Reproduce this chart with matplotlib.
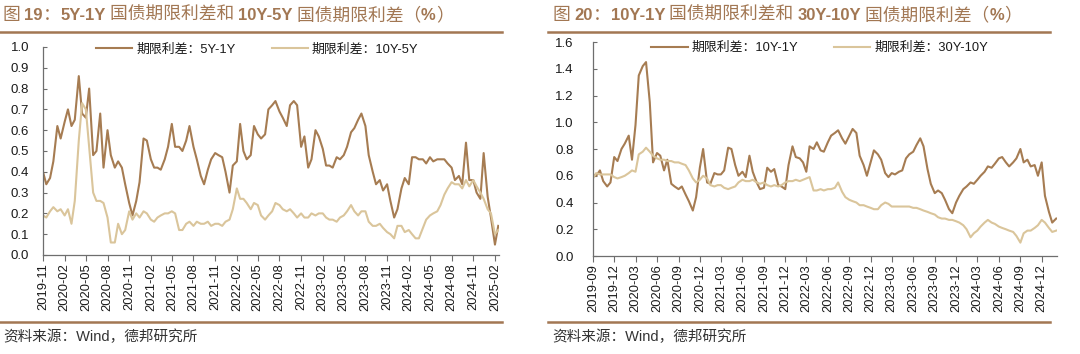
import pandas as pd
import matplotlib
matplotlib.use('Agg')
import matplotlib.pyplot as plt
from matplotlib.lines import Line2D

plt.rcParams['font.family'] = ['Liberation Sans', 'Noto Sans CJK SC']

# 图19：半月取值，起点 2019-11-01
spread_5y1y = [
    0.40, 0.34, 0.37, 0.45, 0.62, 0.56, 0.64, 0.70, 0.62, 0.65, 0.86, 0.68,
    0.66, 0.80, 0.48, 0.50, 0.68, 0.42, 0.60, 0.48, 0.42, 0.45, 0.42, 0.34,
    0.25, 0.19, 0.26, 0.35, 0.56, 0.55, 0.46, 0.42, 0.42, 0.41, 0.46, 0.52,
    0.63, 0.52, 0.52, 0.50, 0.55, 0.62, 0.52, 0.46, 0.38, 0.34, 0.41, 0.46,
    0.49, 0.48, 0.47, 0.40, 0.30, 0.43, 0.45, 0.63, 0.50, 0.46, 0.48, 0.62,
    0.58, 0.56, 0.58, 0.70, 0.72, 0.74, 0.69, 0.66, 0.62, 0.72, 0.74, 0.72,
    0.52, 0.57, 0.42, 0.46, 0.60, 0.57, 0.51, 0.43, 0.43, 0.42, 0.47, 0.46,
    0.48, 0.52, 0.59, 0.61, 0.65, 0.68, 0.62, 0.48, 0.40, 0.34, 0.36, 0.31,
    0.34, 0.26, 0.18, 0.22, 0.32, 0.37, 0.34, 0.47, 0.47, 0.46, 0.46, 0.44,
    0.47, 0.45, 0.46, 0.46, 0.46, 0.44, 0.42, 0.36, 0.38, 0.34, 0.54, 0.36,
    0.36, 0.30, 0.27, 0.49, 0.28, 0.18, 0.05, 0.14,
]
spread_10y5y = [
    0.19, 0.18, 0.21, 0.23, 0.21, 0.22, 0.19, 0.22, 0.15, 0.26, 0.55, 0.73,
    0.70, 0.52, 0.30, 0.26, 0.26, 0.25, 0.18, 0.06, 0.06, 0.15, 0.10, 0.12,
    0.21, 0.17, 0.20, 0.18, 0.21, 0.20, 0.17, 0.16, 0.18, 0.19, 0.20, 0.20,
    0.21, 0.20, 0.12, 0.12, 0.15, 0.16, 0.14, 0.16, 0.15, 0.15, 0.16, 0.14,
    0.15, 0.15, 0.14, 0.16, 0.17, 0.22, 0.32, 0.27, 0.27, 0.25, 0.22, 0.25,
    0.24, 0.19, 0.17, 0.19, 0.21, 0.25, 0.24, 0.22, 0.21, 0.22, 0.20, 0.18,
    0.20, 0.18, 0.18, 0.20, 0.19, 0.20, 0.20, 0.18, 0.17, 0.17, 0.16, 0.18,
    0.19, 0.21, 0.24, 0.21, 0.19, 0.21, 0.21, 0.16, 0.14, 0.14, 0.15, 0.13,
    0.11, 0.10, 0.08, 0.14, 0.14, 0.11, 0.12, 0.10, 0.08, 0.08, 0.13, 0.17,
    0.19, 0.20, 0.21, 0.24, 0.29, 0.32, 0.35, 0.34, 0.34, 0.32, 0.36, 0.33,
    0.36, 0.33, 0.30, 0.27, 0.22, 0.20, 0.10, 0.12,
]

# 图20：半月取值，起点 2019-09-01
spread_10y1y = [
    0.61, 0.60, 0.64, 0.56, 0.52, 0.55, 0.74, 0.71, 0.80, 0.84, 0.90, 0.72,
    0.98, 1.35, 1.42, 1.45, 1.15, 0.70, 0.77, 0.75, 0.64, 0.72, 0.54, 0.52,
    0.50, 0.52, 0.46, 0.41, 0.34, 0.44, 0.66, 0.80, 0.55, 0.54, 0.62, 0.61,
    0.61, 0.64, 0.81, 0.80, 0.68, 0.60, 0.63, 0.59, 0.75, 0.63, 0.55, 0.50,
    0.51, 0.66, 0.63, 0.65, 0.53, 0.52, 0.50, 0.68, 0.82, 0.74, 0.73, 0.70,
    0.63, 0.82, 0.80, 0.85, 0.79, 0.78, 0.85, 0.90, 0.92, 0.94, 0.88, 0.84,
    0.90, 0.95, 0.92, 0.75, 0.68, 0.60, 0.70, 0.79, 0.76, 0.72, 0.62, 0.59,
    0.62, 0.61, 0.63, 0.64, 0.73, 0.76, 0.78, 0.83, 0.88, 0.82, 0.65, 0.54,
    0.47, 0.49, 0.47, 0.42, 0.35, 0.32, 0.40, 0.45, 0.50, 0.52, 0.55, 0.54,
    0.57, 0.60, 0.63, 0.67, 0.66, 0.69, 0.73, 0.74, 0.70, 0.67, 0.70, 0.73,
    0.80, 0.70, 0.72, 0.67, 0.68, 0.60, 0.70, 0.45, 0.33, 0.25, 0.28,
]
spread_30y10y = [
    0.58, 0.62, 0.61, 0.61, 0.61, 0.61, 0.59, 0.58, 0.59, 0.60, 0.62, 0.64,
    0.63, 0.76, 0.78, 0.81, 0.78, 0.75, 0.73, 0.72, 0.72, 0.71, 0.71, 0.70,
    0.70, 0.69, 0.68, 0.64, 0.58, 0.55, 0.57, 0.60, 0.58, 0.53, 0.52, 0.53,
    0.53, 0.51, 0.50, 0.51, 0.52, 0.55, 0.57, 0.56, 0.56, 0.57, 0.55, 0.54,
    0.55, 0.53, 0.52, 0.53, 0.52, 0.53, 0.55, 0.56, 0.56, 0.57, 0.56, 0.57,
    0.58, 0.59, 0.49, 0.49, 0.50, 0.49, 0.50, 0.50, 0.51, 0.55, 0.48, 0.44,
    0.42, 0.41, 0.40, 0.38, 0.38, 0.37, 0.36, 0.35, 0.35, 0.38, 0.40, 0.39,
    0.37, 0.37, 0.37, 0.37, 0.37, 0.37, 0.36, 0.36, 0.35, 0.34, 0.33, 0.32,
    0.31, 0.29, 0.28, 0.28, 0.27, 0.27, 0.26, 0.25, 0.23, 0.20, 0.14, 0.17,
    0.19, 0.22, 0.25, 0.27, 0.25, 0.24, 0.22, 0.21, 0.20, 0.19, 0.18, 0.15,
    0.10, 0.17, 0.19, 0.19, 0.21, 0.23, 0.27, 0.25, 0.21, 0.18, 0.19,
]

dates_19 = pd.date_range('2019-11-01', periods=len(spread_5y1y), freq='SMS')
dates_20 = pd.date_range('2019-09-01', periods=len(spread_10y1y), freq='SMS')
ticks_19 = pd.date_range('2019-11-01', '2025-02-01', freq='3MS')
ticks_20 = pd.date_range('2019-09-01', '2024-12-01', freq='3MS')

DARK = '#A67C52'
LIGHT = '#DAC59B'
BROWN = '#A27753'
TXT = '#1a1a1a'


def draw_panel(ax, dates, s1, s2, labels, ticks, xlim, ymax, ystep, leg_xy, ypad):
    ax.plot(dates, s1, color=DARK, lw=1.5, label=labels[0])
    ax.plot(dates, s2, color=LIGHT, lw=1.5, label=labels[1])
    ax.set_xlim(pd.Timestamp(xlim[0]), pd.Timestamp(xlim[1]))
    ax.set_ylim(0, ymax)
    yt = [round(i * ystep, 1) for i in range(int(round(ymax / ystep)) + 1)]
    ax.set_yticks(yt)
    ax.set_yticklabels([f'{v:.1f}' for v in yt])
    ax.set_xticks(ticks)
    ax.set_xticklabels([d.strftime('%Y-%m') for d in ticks], rotation=90)
    ax.tick_params(axis='x', direction='out', length=4, width=0.8, pad=2,
                   labelsize=9.3, colors='#6e6e6e', labelcolor=TXT)
    ax.tick_params(axis='y', direction='in', length=3, width=0.8, pad=ypad,
                   labelsize=9.5, colors='#6e6e6e', labelcolor=TXT)
    for side in ['top', 'right']:
        ax.spines[side].set_visible(False)
    for side in ['left', 'bottom']:
        ax.spines[side].set_color('#6e6e6e')
        ax.spines[side].set_linewidth(0.9)
    ax.legend(loc='center', bbox_to_anchor=leg_xy, ncol=2, frameon=False,
              handlelength=2.8, handletextpad=0.3, columnspacing=2.8,
              fontsize=9.3, borderaxespad=0, borderpad=0, labelcolor=TXT)


fig = plt.figure(figsize=(10.8, 3.54), dpi=100)
bg = fig.add_axes([0, 0, 1, 1])
bg.axis('off')

ax1 = fig.add_axes([0.0398, 0.2797, 0.4222, 0.5876])
ax2 = fig.add_axes([0.549, 0.2768, 0.4296, 0.6045])

draw_panel(ax1, dates_19, spread_5y1y, spread_10y5y,
           ['期限利差：5Y-1Y', '期限利差：10Y-5Y'], ticks_19,
           ('2019-11-01', '2025-02-18'), 1.0, 0.1, (0.47, 0.986), 10)
draw_panel(ax2, dates_20, spread_10y1y, spread_30y10y,
           ['期限利差：10Y-1Y', '期限利差：30Y-10Y'], ticks_20,
           ('2019-09-01', '2025-02-04'), 1.6, 0.2, (0.489, 0.971), 14)


def title_line(x, y, pieces):
    prev = bg.annotate(pieces[0][0], xy=(x, y), xycoords='figure fraction',
                       va='baseline', ha='left', color=BROWN,
                       family=['Noto Sans CJK SC'], fontsize=12.8)
    for s, bold in pieces[1:]:
        if bold:
            kw = dict(family=['Liberation Sans'], fontweight='bold', fontsize=12)
        else:
            kw = dict(family=['Noto Sans CJK SC'], fontsize=12.8)
        prev = bg.annotate(s, xy=(1, y), xycoords=(prev, 'figure fraction'),
                           va='baseline', ha='left', color=BROWN, **kw)


title_line(0.0025, 0.944, [('图 ', False), ('19', True), ('：', False),
                           ('5Y-1Y', True), (' 国债期限利差和 ', False),
                           ('10Y-5Y', True), (' 国债期限利差（', False),
                           ('%', True), ('）', False)])
title_line(0.512, 0.944, [('图 ', False), ('20', True), ('：', False),
                          ('10Y-1Y', True), (' 国债期限利差和 ', False),
                          ('30Y-10Y', True), (' 国债期限利差（', False),
                          ('%', True), ('）', False)])

for x0, x1 in [(0.0, 0.465), (0.507, 0.972)]:
    for y in [0.9096, 0.0918]:
        fig.add_artist(Line2D([x0, x1], [y, y], transform=fig.transFigure,
                              color=BROWN, lw=1.8))

fig.text(0.003, 0.036, '资料来源：Wind，德邦研究所', fontsize=10.5, color='#333333')
fig.text(0.511, 0.036, '资料来源：Wind，德邦研究所', fontsize=10.5, color='#333333')

fig.savefig('out.png', dpi=100)
